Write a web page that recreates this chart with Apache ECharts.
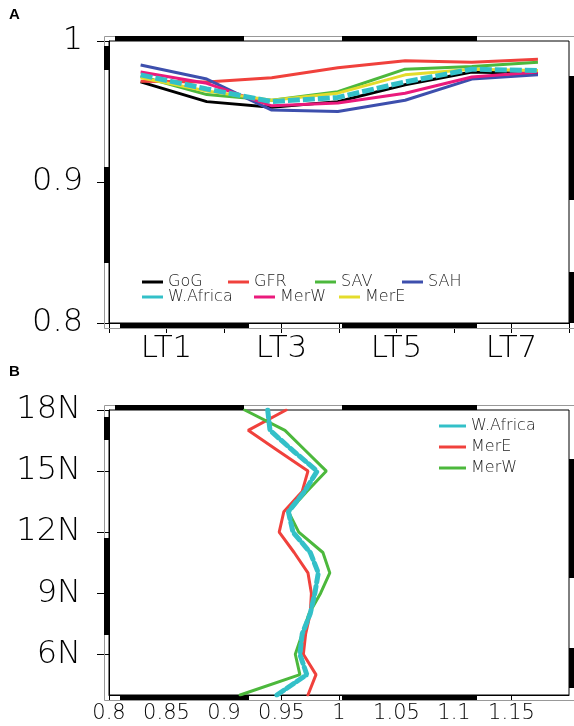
<!DOCTYPE html>
<html>
<head>
<meta charset="utf-8">
<script src="https://cdn.jsdelivr.net/npm/echarts@6/dist/echarts.min.js"></script>
<style>
  html, body { margin: 0; padding: 0; background: #fff; }
  #chart { width: 574px; height: 726px; }
</style>
</head>
<body>
<div id="chart"></div>
<script>
// panel A: lead times
const leadPos = [0.55, 1.7, 2.83, 3.98, 5.15, 6.31, 7.46];
const gog     = [0.971, 0.957, 0.953, 0.957, 0.969, 0.978, 0.977];
const gfr     = [0.9715, 0.971, 0.974, 0.981, 0.986, 0.985, 0.987];
const sav     = [0.975, 0.962, 0.958, 0.964, 0.980, 0.982, 0.985];
const sah     = [0.983, 0.973, 0.951, 0.950, 0.958, 0.973, 0.976];
const merWA   = [0.978, 0.970, 0.954, 0.956, 0.963, 0.9745, 0.978];
const merEA   = [0.974, 0.9645, 0.958, 0.963, 0.976, 0.980, 0.979];
const wAfrA   = [0.976, 0.966, 0.957, 0.960, 0.971, 0.980, 0.979];

// panel B: latitude profiles
const lats  = [4, 5, 6, 7, 8, 9, 10, 11, 12, 13, 14, 15, 16, 17, 18];
const wAfrB = [0.946, 0.972, 0.966, 0.968, 0.975, 0.979, 0.982, 0.975, 0.960, 0.956, 0.970, 0.981, 0.960, 0.940, 0.938];
const merEB = [0.973, 0.980, 0.969, 0.971, 0.975, 0.976, 0.973, 0.961, 0.948, 0.952, 0.968, 0.973, 0.947, 0.921, 0.954];
const merWB = [0.914, 0.966, 0.962, 0.968, 0.974, 0.984, 0.992, 0.986, 0.965, 0.956, 0.972, 0.989, 0.971, 0.953, 0.918];
const latTicks = [6, 9, 12, 15, 18];

const C = {
  black: "#000000", red: "#f0413c", green: "#4cb83c", blue: "#3d4fad",
  cyan: "#33c0c8", pink: "#ea1a7c", yellow: "#e4dc2c"
};
const FONT = "DejaVu Sans";
const WT = 200;

function lineA(name, vals, color, width, dashed) {
  return {
    name: name, type: "line", xAxisIndex: 0, yAxisIndex: 0,
    data: leadPos.map((x, i) => [x, vals[i]]),
    symbol: "none", color: color, animation: false,
    lineStyle: { color: color, width: width || 3, type: dashed ? [12, 3] : "solid" }
  };
}
function lineB(name, vals, color, width, dashed) {
  return {
    name: name, type: "line", xAxisIndex: 1, yAxisIndex: 1,
    data: lats.map((l, i) => [vals[i], l]),
    symbol: "none", color: color, animation: false,
    lineStyle: { color: color, width: width || 3, type: dashed ? [8, 4] : "solid", cap: "round" }
  };
}

// map-like frame strips around each panel
function frame(box, segs) {
  const w = 5, out = [];
  out.push({ type: "rect", z: 1, shape: { x: box.x0 - w + 0.5, y: box.y0 - w + 0.5, width: box.x1 - box.x0 + 2 * w, height: box.y1 - box.y0 + 2 * w },
    style: { fill: null, stroke: "#999", lineWidth: 1 } });
  segs.top.forEach(s => out.push({ type: "rect", z: 1, shape: { x: s[0], y: box.y0 - w, width: s[1] - s[0], height: w }, style: { fill: "#000" } }));
  segs.bottom.forEach(s => out.push({ type: "rect", z: 1, shape: { x: s[0], y: box.y1, width: s[1] - s[0], height: w }, style: { fill: "#000" } }));
  segs.left.forEach(s => out.push({ type: "rect", z: 1, shape: { x: box.x0 - w, y: s[0], width: w, height: s[1] - s[0] }, style: { fill: "#000" } }));
  segs.right.forEach(s => out.push({ type: "rect", z: 1, shape: { x: box.x1, y: s[0], width: w, height: s[1] - s[0] }, style: { fill: "#000" } }));
  return out;
}

function legendItem(name, color, left, top) {
  return {
    left: left, top: top, padding: 0, selectedMode: false,
    icon: "rect", itemWidth: 21, itemHeight: 3,
    textStyle: { fontFamily: FONT, fontWeight: WT, fontSize: 16, color: "#222" },
    data: [{ name: name, itemStyle: { color: color } }]
  };
}

const chart = echarts.init(document.getElementById("chart"));
const option = {
  backgroundColor: "#fff",
  animation: false,
  grid: [
    { left: 109, top: 41, width: 460, height: 282, show: true, borderColor: "#000", borderWidth: 1 },
    { left: 109, top: 410, width: 460, height: 285, show: true, borderColor: "#000", borderWidth: 1 }
  ],
  xAxis: [
    {
      gridIndex: 0, type: "value", min: 0, max: 8, interval: 1,
      axisLine: { lineStyle: { color: "#000", width: 1 } },
      axisTick: { show: true, length: 10, lineStyle: { color: "#000" } },
      splitLine: { show: false },
      axisLabel: {
        margin: 10, fontFamily: FONT, fontWeight: WT, fontSize: 31, color: "#000",
        formatter: v => (v % 2 === 1 ? "LT" + v : "")
      }
    },
    {
      gridIndex: 1, type: "value", min: 0.8, max: 1.2, interval: 0.05,
      axisLine: { lineStyle: { color: "#000", width: 1 } },
      axisTick: { show: true, length: 6, lineStyle: { color: "#000" } },
      splitLine: { show: false },
      axisLabel: { margin: 8, fontFamily: FONT, fontWeight: WT, fontSize: 21, color: "#000", showMaxLabel: false }
    }
  ],
  yAxis: [
    {
      gridIndex: 0, type: "value", min: 0.8, max: 1, interval: 0.1,
      axisLine: { show: true, lineStyle: { color: "#000", width: 1 } },
      axisTick: { show: true, length: 12, lineStyle: { color: "#000" } },
      splitLine: { show: false },
      axisLabel: { margin: 26, fontFamily: FONT, fontWeight: WT, fontSize: 32, color: "#000" }
    },
    {
      gridIndex: 1, type: "value", min: 4, max: 18,
      axisLine: { show: true, lineStyle: { color: "#000", width: 1 } },
      axisTick: { show: true, length: 12, customValues: latTicks, lineStyle: { color: "#000" } },
      splitLine: { show: false },
      axisLabel: { margin: 28, fontFamily: FONT, fontWeight: WT, fontSize: 32, color: "#000", customValues: latTicks, formatter: v => v + "N" }
    }
  ],
  legend: [
    legendItem("GoG", C.black, 142, 274),
    legendItem("GFR", C.red, 228, 274),
    legendItem("SAV", C.green, 315, 274),
    legendItem("SAH", C.blue, 402, 274),
    legendItem("W.Africa", C.cyan, 142, 289),
    legendItem("MerW", C.pink, 254, 289),
    legendItem("MerE", C.yellow, 339, 289),
    {
      left: 439, top: 418, padding: 0, orient: "vertical", itemGap: 5, selectedMode: false,
      icon: "rect", itemWidth: 27, itemHeight: 3,
      textStyle: { fontFamily: FONT, fontWeight: WT, fontSize: 16, color: "#222" },
      data: [
        { name: "W.Africa", itemStyle: { color: C.cyan } },
        { name: "MerE", itemStyle: { color: C.red } },
        { name: "MerW", itemStyle: { color: C.green } }
      ]
    }
  ],
  graphic: [
    { type: "text", left: 9, top: 7, style: { text: "A", fontFamily: "Liberation Sans", fontWeight: "bold", fontSize: 15, fill: "#000" } },
    { type: "text", left: 9, top: 364, style: { text: "B", fontFamily: "Liberation Sans", fontWeight: "bold", fontSize: 15, fill: "#000" } }
  ].concat(
    frame({ x0: 109, x1: 569, y0: 41, y1: 323 }, {
      top: [[115, 244], [342, 477]], bottom: [[120, 249], [342, 477]],
      left: [[46, 70], [167, 263]], right: [[76, 200], [272, 323]]
    }),
    frame({ x0: 109, x1: 569, y0: 410, y1: 695 }, {
      top: [[115, 244], [342, 477]], bottom: [[120, 249], [342, 477]],
      left: [[417, 440], [538, 635]], right: [[459, 578], [648, 688]]
    })
  ),
  series: [
    lineA("GoG", gog, C.black),
    lineA("GFR", gfr, C.red),
    lineA("SAV", sav, C.green),
    lineA("SAH", sah, C.blue),
    lineA("MerW", merWA, C.pink),
    lineA("MerE", merEA, C.yellow),
    lineA("W.Africa", wAfrA, C.cyan, 5, true),
    lineB("MerE", merEB, C.red),
    lineB("MerW", merWB, C.green),
    lineB("W.Africa", wAfrB, C.cyan, 5, true)
  ]
};
chart.setOption(option);
</script>
</body>
</html>
